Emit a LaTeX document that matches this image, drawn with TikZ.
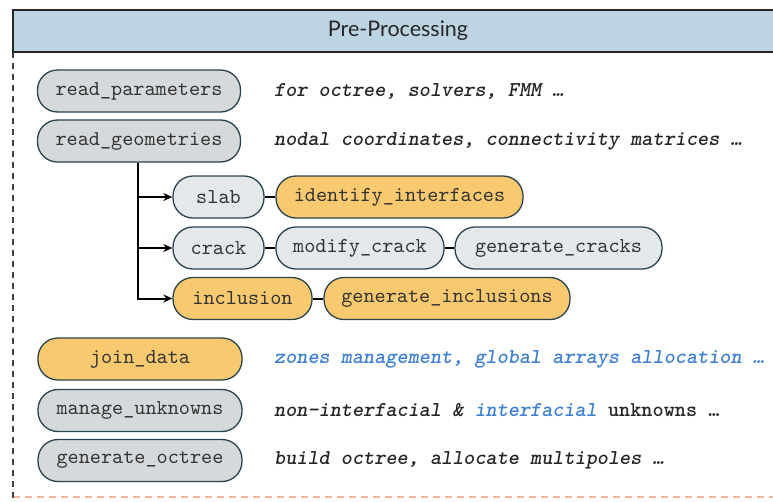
\documentclass[tikz,border=0pt]{standalone}
\usepackage{fontspec}
\setmainfont{Lato}
\newfontfamily\monof{lmmono10-regular}[Extension=.otf]
\newfontfamily\descf{lmmonolt10-boldoblique}[Extension=.otf]
\newfontfamily\descuf{lmmonolt10-bold}[Extension=.otf]
\usetikzlibrary{arrows.meta}
\definecolor{hdrfill}{HTML}{BDD4E2}
\definecolor{edgec}{HTML}{2A4350}
\definecolor{grayfill}{HTML}{D6D9DB}
\definecolor{lightfill}{HTML}{E4E8EB}
\definecolor{orangefill}{HTML}{F8C96F}
\definecolor{bluetxt}{HTML}{3D80D2}
\definecolor{txtc}{HTML}{333333}
\definecolor{dashor}{HTML}{F2B49A}
\tikzset{
  pill/.style={draw=edgec, line width=1.3pt, rounded corners=20pt, minimum height=42pt,
    inner sep=0pt, font=\monof\fontsize{21.2}{22}\selectfont, text=txtc},
  grayp/.style={pill, fill=grayfill},
  lightp/.style={pill, fill=lightfill},
  orangep/.style={pill, fill=orangefill},
  desc/.style={anchor=west, inner sep=0pt, font=\descf\fontsize{21.2}{22}\selectfont, text=black!85},
  link/.style={line width=2pt, draw=black},
  trunk/.style={line width=2pt, draw=black, -{Stealth[length=9pt,width=8pt]}}
}
\begin{document}
\begin{tikzpicture}[x=1pt,y=1pt]
\useasboundingbox (0,0) rectangle (773,-501);
% frame
\draw[dashor, line width=1.2pt, dash pattern=on 7pt off 5pt] (13,-497) -- (773,-497);
\draw[black!75, line width=1.3pt, dash pattern=on 6pt off 5pt] (13,-52) -- (13,-501);
% header
\node[draw=black!85, line width=1.6pt, fill=hdrfill, minimum width=770pt, minimum height=42pt, anchor=north west, inner sep=0pt] (hdr) at (12,-9) {};
\node[font=\fontsize{21.5}{24}\selectfont, text=black!85] (title) at (398,-31) {Pre-Processing};
% main column
\node[grayp, minimum width=203pt] (rp) at (139,-91) {read\_parameters};
\node[grayp, minimum width=203pt] (rg) at (139,-141) {read\_geometries};
\node[desc] (drp) at (274,-91) {for octree, solvers, FMM …};
\node[desc] (drg) at (274,-141) {nodal coordinates, connectivity matrices …};
% sub tree
\node[lightp, minimum width=91pt] (slab) at (218.5,-197) {slab};
\node[orangep, minimum width=247pt] (ii) at (399.5,-197) {identify\_interfaces};
\node[lightp, minimum width=91pt] (crack) at (218.5,-248) {crack};
\node[lightp, minimum width=168pt] (mc) at (360,-248) {modify\_crack};
\node[lightp, minimum width=207pt] (gc) at (558.5,-248) {generate\_cracks};
\node[orangep, minimum width=139pt] (incl) at (242.5,-298.5) {inclusion};
\node[orangep, minimum width=246pt] (gi) at (447,-298.5) {generate\_inclusions};
\draw[trunk] ([xshift=-1pt]rg.south) |- (slab.west);
\draw[trunk] ([xshift=-1pt]rg.south) |- (crack.west);
\draw[trunk] ([xshift=-1pt]rg.south) |- (incl.west);
\draw[link] (slab) -- (ii);
\draw[link] (crack) -- (mc);
\draw[link] (mc) -- (gc);
\draw[link] (incl) -- (gi);
% bottom column
\node[orangep, minimum width=204pt] (jd) at (140,-359) {join\_data};
\node[grayp, minimum width=204pt] (mu) at (140,-410.5) {manage\_unknowns};
\node[grayp, minimum width=204pt] (go) at (140,-460.5) {generate\_octree};
\node[desc, text=bluetxt] (djd) at (274,-359) {zones management, global arrays allocation …};
\node[desc] (dmu) at (274,-410.5) {non-interfacial \& \textcolor{bluetxt}{interfacial} {\descuf unknowns …}};
\node[desc] (dgo) at (274,-460.5) {build octree, allocate multipoles …};
\end{tikzpicture}
\end{document}
